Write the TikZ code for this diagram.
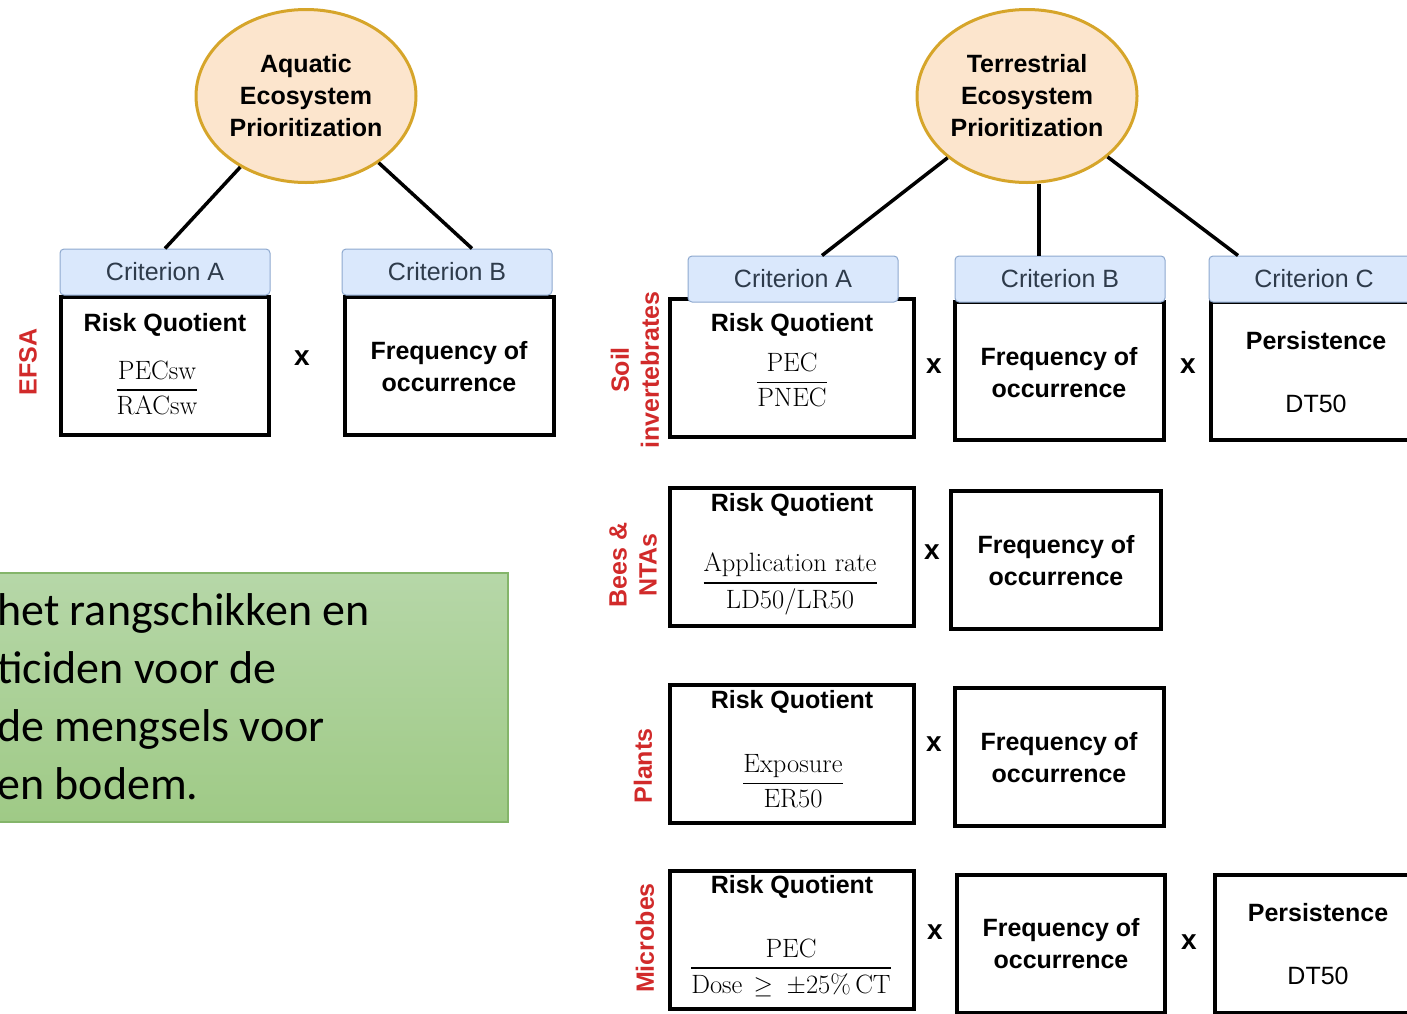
\documentclass[tikz,border=0pt]{standalone}
\usepackage{amsmath}
\usepackage{fontspec}
\setsansfont{Liberation Sans}
\newfontfamily\notefont{Carlito}
\usetikzlibrary{shapes.geometric}
\definecolor{goalfill}{HTML}{FCE5CD}
\definecolor{goalline}{HTML}{D6A52A}
\definecolor{critfill}{HTML}{DAE8FC}
\definecolor{critline}{HTML}{8EA9CF}
\definecolor{crittext}{HTML}{2E3B4B}
\definecolor{grpred}{HTML}{D12A2A}
\definecolor{notetop}{HTML}{B6D7A8}
\definecolor{notebot}{HTML}{9FCA86}
\definecolor{noteline}{HTML}{84B56A}
\newcommand{\riskfrac}[2]{$\genfrac{}{}{1.6pt}{0}{\text{#1}}{\text{#2}}$}
\begin{document}
\begin{tikzpicture}[x=1pt, y=-1pt,
	goal/.style={ellipse, draw=goalline, fill=goalfill, line width=3pt, minimum width=220pt, minimum height=173pt, align=center, inner sep=0pt, font=\sffamily\bfseries\fontsize{25}{32}\selectfont},
	crit/.style={rectangle, rounded corners=4pt, draw=critline, fill=critfill, line width=1pt, minimum width=210pt, minimum height=46pt, text=crittext, font=\sffamily\fontsize{25}{30}\selectfont},
	frame/.style={draw, line width=4pt, minimum height=138pt},
	head/.style={inner sep=0pt, font=\sffamily\bfseries\fontsize{25}{30}\selectfont},
	freq/.style={align=center, inner sep=0pt, font=\sffamily\bfseries\fontsize{25}{32}\selectfont},
	val/.style={inner sep=0pt, font=\sffamily\fontsize{25}{30}\selectfont},
	mult/.style={inner sep=0pt, font=\sffamily\bfseries\fontsize{28}{30}\selectfont},
	ratio/.style={inner sep=0pt, font=\fontsize{26.5}{30}\selectfont},
	grp/.style={rotate=90, text=grpred, align=center, inner sep=0pt, font=\sffamily\bfseries\fontsize{25}{30}\selectfont},
	note/.style={draw=noteline, line width=1.2pt, top color=notetop, bottom color=notebot},
	notetext/.style={align=left, inner sep=0pt, font=\notefont\fontsize{46}{58}\selectfont},
	link/.style={line width=3.5pt}]
	\clip (0,0) rectangle (1407,1013);
	% aquatic tree
	\node[goal] (aqua) at (306,96) {Aquatic\\Ecosystem\\Prioritization};
	\node[frame, minimum width=208pt] (aqRQ) at (165,366) {};
	\node[frame, minimum width=209pt] (aqFO) at (449.5,366) {};
	\node[crit] (aqA) at (165,272) {Criterion A};
	\node[crit] (aqB) at (447,272) {Criterion B};
	\draw[link] (aqua) -- (aqA.north);
	\draw[link] (aqua) -- ([xshift=25pt]aqB.north);
	\node[head]  (aqRQt) at (165,325) {Risk Quotient};
	\node[ratio] (aqRQf) at (157,388) {\riskfrac{PECsw}{RACsw}};
	\node[mult]  (aqX)   at (302,358) {x};
	\node[freq]  (aqFOt) at (449,367) {Frequency of\\occurrence};
	\node[grp]   (efsa)  at (28,362)  {EFSA};
	% terrestrial tree
	\node[goal] (terr) at (1027,96) {Terrestrial\\Ecosystem\\Prioritization};
	% soil invertebrates
	\node[frame, minimum width=244pt] (soRQ) at (792,367.5) {};
	\node[frame, minimum width=209pt] (soFO) at (1059.5,371) {};
	\node[frame, minimum width=209pt] (soPE) at (1315.5,371) {};
	\node[crit] (teA) at (793,279)  {Criterion A};
	\node[crit] (teB) at (1060,279) {Criterion B};
	\node[crit] (teC) at (1314,279) {Criterion C};
	\coordinate (teBtop) at ([xshift=-21pt]teB.north);
	\draw[link] (terr) -- ([xshift=29pt]teA.north);
	\draw[link] (teBtop |- terr.south) -- (teBtop);
	\draw[link] (terr) -- ([xshift=-76pt]teC.north);
	\node[head]  (soRQt) at (792,325)  {Risk Quotient};
	\node[ratio] (soRQf) at (792,380)  {\riskfrac{PEC}{PNEC}};
	\node[mult]  (soX1)  at (934,366)  {x};
	\node[freq]  (soFOt) at (1059,373) {Frequency of\\occurrence};
	\node[mult]  (soX2)  at (1188,366) {x};
	\node[head]  (soPEt) at (1316,341) {Persistence};
	\node[val]   (soPEv) at (1316,404) {DT50};
	\node[grp]   (soil)  at (635,370)  {Soil\\invertebrates};
	% bees
	\node[frame, minimum width=244pt] (beRQ) at (792,557) {};
	\node[frame, minimum width=210pt] (beFO) at (1056,560) {};
	\node[head]  (beRQt) at (792,505)  {Risk Quotient};
	\node[ratio] (beRQf) at (790,584)  {\riskfrac{Application rate}{LD50/LR50}};
	\node[mult]  (beX)   at (932,552)  {x};
	\node[freq]  (beFOt) at (1056,561) {Frequency of\\occurrence};
	\node[grp]   (bees)  at (633,565)  {Bees \&\\NTAs};
	% plants
	\node[frame, minimum width=244pt] (plRQ) at (792,754) {};
	\node[frame, minimum width=209pt] (plFO) at (1059.5,757) {};
	\node[head]  (plRQt) at (792,702)  {Risk Quotient};
	\node[ratio] (plRQf) at (793,781)  {\riskfrac{Exposure}{ER50}};
	\node[mult]  (plX)   at (934,744)  {x};
	\node[freq]  (plFOt) at (1059,758) {Frequency of\\occurrence};
	\node[grp]   (plants) at (643,766) {Plants};
	% microbes
	\node[frame, minimum width=244pt] (miRQ) at (792,940) {};
	\node[frame, minimum width=208pt] (miFO) at (1061,944) {};
	\node[frame, minimum width=209pt] (miPE) at (1319.5,944) {};
	\node[head]  (miRQt) at (792,887)  {Risk Quotient};
	\node[ratio] (miRQf) at (791,968)  {$\genfrac{}{}{1.6pt}{0}{\text{PEC}}{\text{Dose}\,\geq\;\pm\text{25\%\,CT}}$};
	\node[mult]  (miX1)  at (935,932)  {x};
	\node[freq]  (miFOt) at (1061,944) {Frequency of\\occurrence};
	\node[mult]  (miX2)  at (1189,942) {x};
	\node[head]  (miPEt) at (1318,913) {Persistence};
	\node[val]   (miPEv) at (1318,976) {DT50};
	\node[grp]   (microbes) at (645,938) {Microbes};
	% note
	\node[note, minimum width=520pt, minimum height=249pt] (note) at (248,697.5) {};
	\node[notetext, anchor=west] (notetxt) at (-3,697) {het rangschikken en\\ticiden voor de\\de mengsels voor\\en bodem.};
\end{tikzpicture}
\end{document}
